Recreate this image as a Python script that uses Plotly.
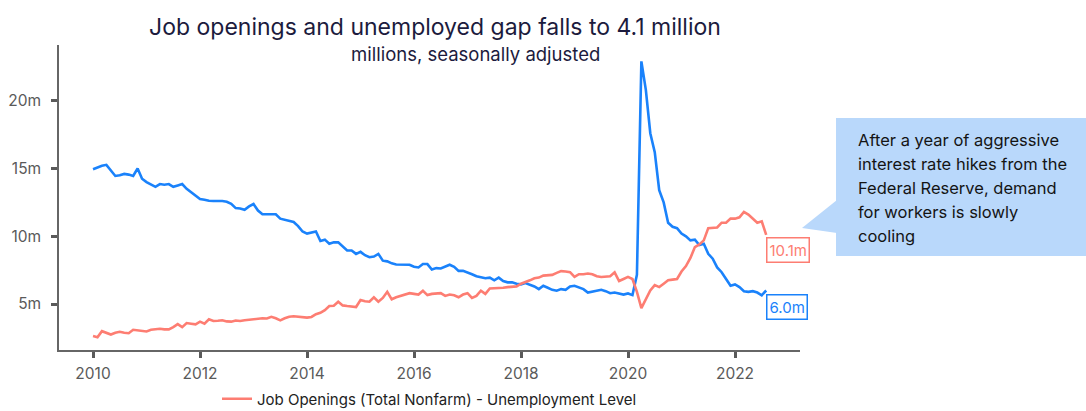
import plotly.graph_objects as go

years = list(range(2010, 2023))
tick_years = [2010, 2012, 2014, 2016, 2018, 2020, 2022]

unemployment = [
    14.95, 15.10, 15.20, 15.27, 14.85, 14.45, 14.50, 14.60, 14.55, 14.45, 15.00, 14.25,
    14.00, 13.80, 13.65, 13.85, 13.80, 13.85, 13.65, 13.75, 13.85, 13.50, 13.25, 13.05,
    12.75, 12.70, 12.62, 12.60, 12.62, 12.60, 12.55, 12.40, 12.08, 12.05, 11.95, 12.20,
    12.38, 11.90, 11.62, 11.62, 11.60, 11.62, 11.30, 11.20, 11.15, 11.05, 10.75, 10.35,
    10.20, 10.30, 10.35, 9.65, 9.75, 9.45, 9.55, 9.55, 9.25, 8.95, 8.95, 8.70,
    8.85, 8.60, 8.45, 8.50, 8.70, 8.20, 8.15, 8.00, 7.92, 7.92, 7.95, 7.90,
    7.75, 7.70, 7.95, 7.95, 7.55, 7.65, 7.62, 7.75, 7.90, 7.75, 7.45, 7.45,
    7.35, 7.20, 7.05, 7.00, 6.90, 6.95, 6.75, 6.95, 6.70, 6.60, 6.60, 6.50,
    6.45, 6.55, 6.45, 6.30, 6.10, 6.35, 6.20, 6.05, 5.98, 6.10, 6.05, 6.30,
    6.35, 6.20, 6.10, 5.85, 5.90, 5.95, 6.05, 5.95, 5.80, 5.85, 5.80, 5.70,
    5.78, 5.66, 7.15, 22.9, 20.8, 17.6, 16.2, 13.4, 12.5, 11.0, 10.7, 10.6,
    10.2, 10.0, 9.7, 9.75, 9.35, 9.45, 8.7, 8.35, 7.7, 7.35, 6.85, 6.35,
    6.45, 6.25, 5.95, 5.90, 5.95, 5.85, 5.65, 6.0,
]

job_openings = [
    2.64, 2.55, 3.00, 2.90, 2.75, 2.88, 2.95, 2.88, 2.85, 3.10, 3.05, 3.00,
    2.98, 3.10, 3.15, 3.18, 3.13, 3.13, 3.30, 3.52, 3.30, 3.60, 3.55, 3.50,
    3.70, 3.55, 3.87, 3.75, 3.77, 3.80, 3.72, 3.70, 3.78, 3.75, 3.80, 3.85,
    3.90, 3.92, 3.95, 3.93, 4.06, 3.95, 3.80, 3.95, 4.06, 4.10, 4.05, 4.00,
    4.00, 4.05, 4.25, 4.35, 4.55, 4.85, 4.88, 5.17, 4.90, 4.85, 4.80, 4.78,
    5.30, 5.20, 5.17, 5.50, 5.17, 5.45, 5.90, 5.35, 5.50, 5.60, 5.70, 5.80,
    5.75, 5.70, 5.98, 5.66, 5.75, 5.80, 5.80, 5.60, 5.70, 5.65, 5.50, 5.70,
    5.80, 5.45, 5.60, 5.98, 5.75, 6.15, 6.15, 6.20, 6.20, 6.25, 6.28, 6.30,
    6.50, 6.60, 6.75, 6.90, 6.95, 7.10, 7.15, 7.15, 7.30, 7.43, 7.40, 7.35,
    7.00, 7.20, 7.20, 7.25, 7.20, 7.05, 7.00, 7.05, 7.05, 7.34, 6.70, 6.85,
    7.00, 6.85, 5.90, 4.70, 5.40, 6.00, 6.40, 6.25, 6.50, 6.75, 6.80, 6.85,
    7.40, 7.80, 8.40, 9.20, 9.40, 9.70, 10.60, 10.60, 10.65, 11.00, 11.00, 11.30,
    11.30, 11.40, 11.80, 11.60, 11.30, 11.00, 11.10, 10.10,
]

y_ticks = [5, 10, 15, 20]
y_tick_labels = ["5m", "10m", "15m", "20m"]

callout_lines = [
    "After a year of aggressive",
    "interest rate hikes from the",
    "Federal Reserve, demand",
    "for workers is slowly",
    "cooling",
]

x = [years[0] + i / 12 for i in range(len(unemployment))]

BLUE = "#1a82fb"
RED = "#fd7d72"
NAVY = "#1c1b3d"
GREY = "#5a5a5a"
FONT = "Inter"

# plot area in pixels: left 59, right 800, top 45, bottom 350
PL, PR, PT, PB = 59, 800, 45, 350


def px_x(p):
    return (p - PL) / (PR - PL)


def px_y(p):
    return (PB - p) / (PB - PT)


fig = go.Figure()
fig.add_trace(go.Scatter(
    x=x, y=unemployment, mode="lines", name="Unemployment Level",
    line=dict(color=BLUE, width=2.6), showlegend=False, hoverinfo="skip"))
fig.add_trace(go.Scatter(
    x=x, y=job_openings, mode="lines",
    name="Job Openings (Total Nonfarm) - Unemployment Level",
    line=dict(color=RED, width=2.6), hoverinfo="skip"))

annotations = [
    dict(text="millions, seasonally adjusted", xref="paper", yref="paper",
         x=px_x(475), y=px_y(54), xanchor="center", yanchor="middle", showarrow=False,
         font=dict(family=FONT, size=18.5, color=NAVY)),
    dict(text=f"{job_openings[-1]:.1f}m", xref="x", yref="y", x=x[-1], y=job_openings[-1],
         xanchor="left", yanchor="middle", yshift=-15, showarrow=False,
         font=dict(family=FONT, size=15, color=RED), bgcolor="white",
         bordercolor=RED, borderwidth=1.5, borderpad=2),
    dict(text=f"{unemployment[-1]:.1f}m", xref="x", yref="y", x=x[-1], y=unemployment[-1],
         xanchor="left", yanchor="middle", yshift=-17, showarrow=False,
         font=dict(family=FONT, size=15, color=BLUE), bgcolor="white",
         bordercolor=BLUE, borderwidth=1.5, borderpad=2),
]
line_centers = [140, 164, 188, 212, 236]
for txt, yc in zip(callout_lines, line_centers):
    annotations.append(dict(
        text=txt, xref="paper", yref="paper", x=px_x(856), y=px_y(yc),
        xanchor="left", yanchor="middle", align="left", showarrow=False,
        font=dict(family=FONT, size=16.5, color="#141414")))

shapes = [
    dict(type="rect", xref="paper", yref="paper", x0=px_x(836), x1=px_x(1090),
         y0=px_y(256), y1=px_y(118),
         fillcolor="#b9d8fb", line=dict(width=0), layer="above"),
    dict(type="path", xref="paper", yref="paper",
         path=f"M {px_x(802)} {px_y(228)} L {px_x(837)} {px_y(200)} L {px_x(837)} {px_y(233)} Z",
         fillcolor="#b9d8fb", line=dict(width=0), layer="above"),
]

fig.update_layout(
    width=1086, height=411,
    margin=dict(l=PL, r=1086 - PR, t=PT, b=411 - PB, autoexpand=False),
    paper_bgcolor="white", plot_bgcolor="white",
    title=dict(text="Job openings and unemployed gap falls to 4.1 million",
               x=435 / 1086, xanchor="center", xref="container",
               y=1 - 27 / 411, yanchor="middle", yref="container",
               font=dict(family=FONT, size=23, color=NAVY)),
    showlegend=True,
    legend=dict(orientation="h", x=0.5, xanchor="center", y=px_y(399), yanchor="middle",
                font=dict(family=FONT, size=15, color="#222222"), bgcolor="rgba(0,0,0,0)"),
    annotations=annotations,
    shapes=shapes,
)

fig.update_xaxes(
    range=[2009.364, 2023.215], tickvals=tick_years, ticktext=[str(t) for t in tick_years],
    showgrid=False, zeroline=False, showline=True, linecolor="#666666", linewidth=1.5,
    ticks="outside", ticklen=6, tickwidth=3, tickcolor=GREY,
    tickfont=dict(family=FONT, size=15.5, color=GREY), ticklabelstandoff=3,
)
fig.update_yaxes(
    range=[1.61, 24.11], tickvals=y_ticks, ticktext=y_tick_labels,
    showgrid=False, zeroline=False, showline=True, linecolor="#666666", linewidth=1.5,
    ticks="outside", ticklen=6, tickwidth=3, tickcolor=GREY,
    tickfont=dict(family=FONT, size=15.5, color=GREY), ticklabelstandoff=7,
)

fig.write_html("out.html")
